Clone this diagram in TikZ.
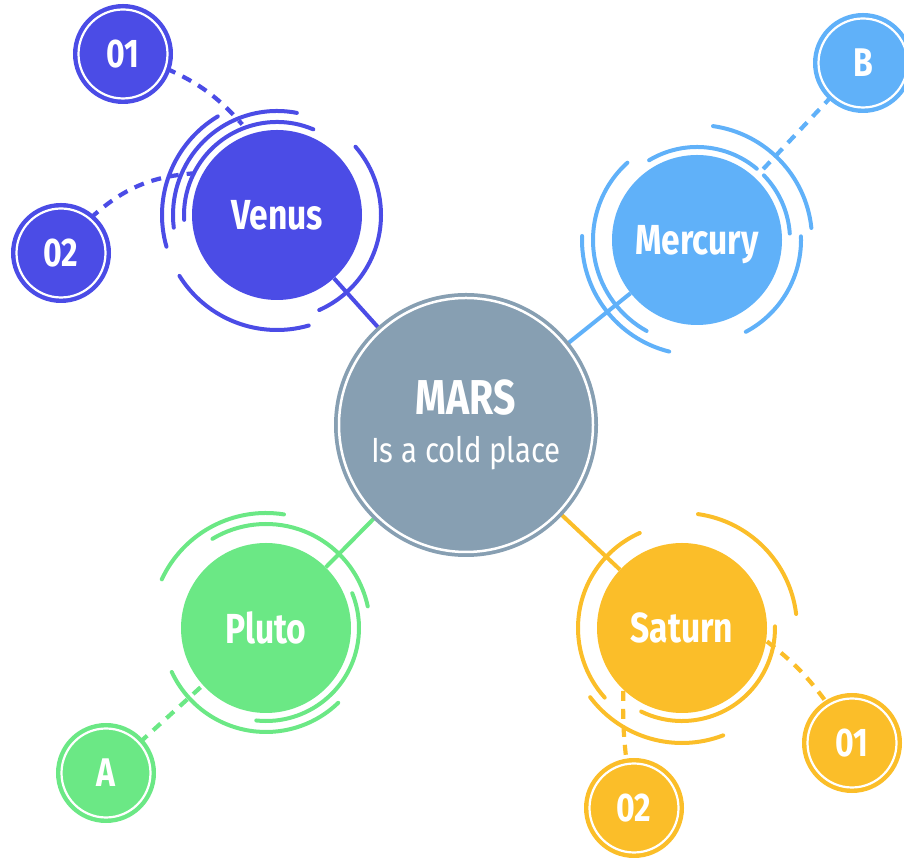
\documentclass[tikz,border=0pt]{standalone}
\usepackage{fontspec}
\setmainfont{Fira Sans}[FakeStretch=0.8]
\usepackage{tikz}
\usetikzlibrary{backgrounds,calc}

\definecolor{venusblue}{RGB}{75,76,230}
\definecolor{mercuryblue}{RGB}{96,177,249}
\definecolor{plutogreen}{RGB}{107,232,133}
\definecolor{saturnyellow}{RGB}{251,190,41}
\definecolor{marsgray}{RGB}{135,159,178}

\begin{document}
\begin{tikzpicture}[x=1pt,y=1pt]
  \tikzstyle{PlanetStyle}=[circle,inner sep=0pt,minimum size=170pt,text=white,text depth=0pt,
                           font=\bfseries\fontsize{42}{42}\selectfont]
  \tikzstyle{OrbitStyle}=[line width=4pt,line cap=round]
  \tikzstyle{LinkStyle}=[line width=4pt]
  \tikzstyle{DashStyle}=[line width=4.2pt,dash pattern=on 10pt off 8pt]
  \tikzset{MoonStyle/.style={circle,inner sep=0pt,minimum size=89pt,fill=#1,draw=white,
                             line width=2.2pt,preaction={draw=#1,line width=11pt},text=white,
                             font=\bfseries\fontsize{40}{40}\selectfont}}
  \useasboundingbox (0,0) rectangle (904,858);

  % center
  \node[circle,inner sep=0pt,minimum size=254pt,fill=marsgray,draw=white,line width=2.5pt,
        preaction={draw=marsgray,line width=10pt},text=white,align=center,
        font=\fontsize{35}{49}\selectfont] (mars) at (466,433)
        {{\bfseries\fontsize{49}{49}\selectfont MARS}\\[-1pt]\addfontfeature{FakeStretch=0.84}Is a cold place};

  % planets
  \node[PlanetStyle,fill=venusblue] (venus) at (277,643) {Venus};
  \node[PlanetStyle,fill=mercuryblue] (mercury) at (697,618) {Mercury};
  \node[PlanetStyle,fill=plutogreen] (pluto) at (266,230) {Pluto};
  \node[PlanetStyle,fill=saturnyellow] (saturn) at (682,230) {Saturn};

  % moons
  \node[MoonStyle=venusblue] (venus1) at (123,804) {01};
  \node[MoonStyle=venusblue] (venus2) at (61,605) {02};
  \node[MoonStyle=mercuryblue] (mercuryB) at (863,795) {B};
  \node[MoonStyle=plutogreen] (plutoA) at (106,85) {A};
  \node[MoonStyle=saturnyellow] (saturn1) at (852,115) {01};
  \node[MoonStyle=saturnyellow] (saturn2) at (634,50) {02};

  \coordinate (venusin1) at ($(venus)+(111:97)$);
  \coordinate (venusin2) at ($(venus)+(153:92)$);
  \coordinate (mercuryin) at ($(mercury)+(47:90)$);
  \coordinate (saturnout1) at ($(saturn)+(-9:86)$);
  \coordinate (saturnout2) at ($(saturn)+(227:86)$);

  \begin{pgfonlayer}{background}
    \draw[LinkStyle,venusblue] (venus) -- (mars);
    \draw[LinkStyle,mercuryblue] (mercury) -- (mars);
    \draw[LinkStyle,plutogreen] (pluto) -- (mars);
    \draw[LinkStyle,saturnyellow] (saturn) -- (mars);
    \draw[DashStyle,venusblue] (venus1) to[bend left=12] (venusin1);
    \draw[DashStyle,venusblue] (venus2) to[bend left=19] (venusin2);
    \draw[DashStyle,mercuryblue] (mercuryB) -- (mercuryin);
    \draw[DashStyle,plutogreen] (plutoA) -- (pluto);
    \draw[DashStyle,saturnyellow] (saturnout1) to[bend left=8] (saturn1);
    \draw[DashStyle,saturnyellow] (saturnout2) to[bend right=4] (saturn2);
  \end{pgfonlayer}

  % orbits
  \foreach \r/\a/\b in {93/67/183,104/79/187,115/121/196,104/-66/41,115/212/286}
    \draw[OrbitStyle,venusblue] (venus) ++(\a:\r) arc[start angle=\a,end angle=\b,radius=\r];
  \foreach \r/\a/\b in {93/4/44,93/50/121,104/-62/2,104/132/241,115/6/82,115/178/256}
    \draw[OrbitStyle,mercuryblue] (mercury) ++(\a:\r) arc[start angle=\a,end angle=\b,radius=\r];
  \foreach \r/\a/\b in {115/81/155,104/12/121,93/-96/22,104/205/314}
    \draw[OrbitStyle,plutogreen] (pluto) ++(\a:\r) arc[start angle=\a,end angle=\b,radius=\r];
  \foreach \r/\a/\b in {115/7/82,104/114/222,93/-116/1,115/217/291}
    \draw[OrbitStyle,saturnyellow] (saturn) ++(\a:\r) arc[start angle=\a,end angle=\b,radius=\r];
\end{tikzpicture}
\end{document}
